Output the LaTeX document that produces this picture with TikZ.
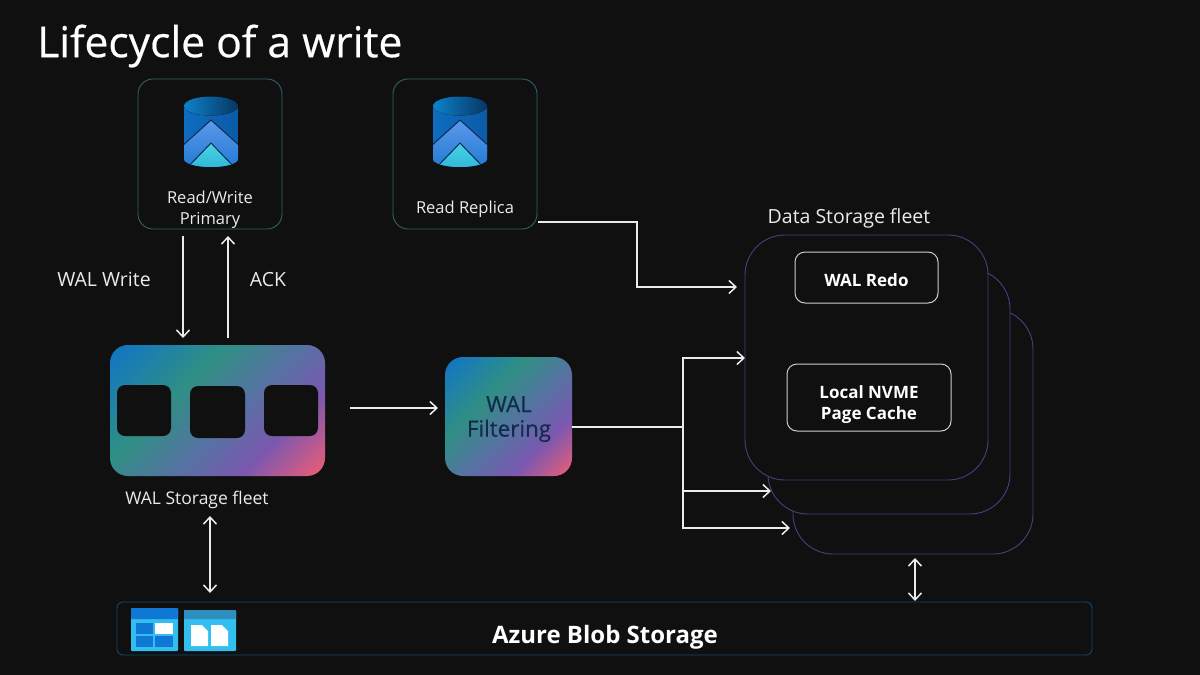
\documentclass[tikz,border=0pt]{standalone}
\usepackage{fontspec}
\setmainfont{Open Sans}
\newfontfamily\semif[FakeBold=0.5]{Open Sans}
\usetikzlibrary{arrows.meta}
\usetikzlibrary{calc}
\definecolor{bgc}{HTML}{101011}
\definecolor{tealc}{HTML}{2F6466}
\definecolor{purc}{HTML}{4C3D7C}
\definecolor{blobc}{HTML}{14456C}
\definecolor{wa}{HTML}{1478BE}
\definecolor{wb}{HTML}{2F8F84}
\definecolor{wc}{HTML}{5672A2}
\definecolor{wd}{HTML}{7A58B0}
\definecolor{we}{HTML}{E85C78}
\definecolor{dba}{HTML}{0F6CC0}
\definecolor{dbb}{HTML}{0C5AA6}
\definecolor{dbc}{HTML}{5C98EA}
\definecolor{dbd}{HTML}{1C78D2}
\definecolor{dbe}{HTML}{4AD4E0}
\definecolor{dbf}{HTML}{2EB4DC}
\definecolor{dbl}{HTML}{0C2A55}
\definecolor{sta}{HTML}{32BEEE}
\definecolor{stb}{HTML}{0F78D4}
\definecolor{stc}{HTML}{2E8EBE}
\definecolor{ftx}{HTML}{142A4C}
\pgfdeclarehorizontalshading{walgrad}{100bp}{color(0bp)=(wa);
  color(18bp)=(wa);
  color(38bp)=(wb);
  color(54bp)=(wc);
  color(68bp)=(wd);
  color(84bp)=(we);
  color(100bp)=(we)}
\tikzset{l/.style={font=\fontsize{16.5}{21}\selectfont,text=white!92!black,inner sep=0pt,align=center}}
\tikzset{m/.style={font=\fontsize{19.5}{24}\selectfont,text=white!92!black,inner sep=0pt}}
\tikzset{b/.style={font=\fontsize{17}{21}\selectfont\bfseries,text=white,inner sep=0pt,align=center}}
\tikzset{card/.style={draw=tealc,line width=0.9pt,rounded corners=15pt,inner sep=0pt}}
\tikzset{fleet/.style={draw=purc,fill=bgc,line width=0.9pt,rounded corners=40pt,inner sep=0pt}}
\tikzset{part/.style={draw=white!80!black,line width=1pt,rounded corners=10pt,inner sep=0pt}}
\tikzset{wal/.style={shading=walgrad,shading angle=-45,rounded corners=18pt,inner sep=0pt}}
\tikzset{slot/.style={fill=bgc,rounded corners=8pt,inner sep=0pt}}
\tikzset{dbicon/.pic={
    \begin{scope}
      \clip (-27,-26) -- (-27,27) arc[start angle=180,end angle=0,x radius=27,y radius=8] -- (27,-26) arc[start angle=0,end angle=180,x radius=27,y radius=9] -- cycle;
      \fill[left color=dba,right color=dbb] (-27,-36) rectangle (27,36);
      \shade[top color=dbc,bottom color=dbd,draw=dbl,line width=1pt] (-30,15) -- (0,-12) -- (30,15) -- (30,40) -- (-30,40) -- cycle;
      \shade[top color=dbe,bottom color=dbf,draw=dbl,line width=1pt] (-26,38) -- (0,11) -- (26,38) -- cycle;
    \end{scope}
    \fill[left color=dba!85!cyan,right color=dbb!60!black] (0,-26) ellipse[x radius=27,y radius=9.5];
}}
\begin{document}
\begin{tikzpicture}[x=1pt,y=-1pt,>={Straight Barb[length=7pt,width=13pt]}]
  \useasboundingbox (0,0) rectangle (1200,675);
  \fill[bgc] (0,0) rectangle (1200,675);
  \node[font=\semif\fontsize{42.6}{42.6}\selectfont,text=white,inner sep=0pt,anchor=west] (T) at (37,46) {Lifecycle of a write};

  \node[card,minimum width=144pt,minimum height=150pt] (P) at (210,154) {};
  \node[card,minimum width=144pt,minimum height=150pt] (R) at (465,154) {};
  \pic at (211,132) {dbicon};
  \pic at (460,132) {dbicon};
  \node[l] (PL) at (210,210) {Read/Write\\Primary};
  \node[l] (RL) at (465,209) {Read Replica};

  \node[wal,minimum width=215pt,minimum height=131pt] (W) at (217.5,410.5) {};
  \node[slot,minimum width=54pt,minimum height=51pt] (W1) at (144,410.5) {};
  \node[slot,minimum width=55pt,minimum height=52pt] (W2) at (217.5,412) {};
  \node[slot,minimum width=54pt,minimum height=51pt] (W3) at (291,410.5) {};
  \node[l,font=\fontsize{17.5}{21}\selectfont] (WL) at (197,500) {WAL Storage fleet};
  \node[wal,minimum width=127pt,minimum height=119pt] (F) at (508.5,416.5) {};
  \node[font=\semif\fontsize{22.4}{24.5}\selectfont,text=ftx,align=center,inner sep=0pt] (FL) at (509,419) {WAL\\Filtering};

  \node[fleet,minimum width=240pt,minimum height=245pt] (D3) at (913,431.5) {};
  \node[fleet,minimum width=242pt,minimum height=245pt] (D2) at (889,391.5) {};
  \node[fleet,minimum width=243pt,minimum height=245pt] (D1) at (866.5,357.5) {};
  \node[m] (DL) at (849,218) {Data Storage fleet};
  \node[part,minimum width=143pt,minimum height=51pt] (D1A) at (866.5,277.5) {};
  \node[b] (D1AL) at (866.5,280.5) {WAL Redo};
  \node[part,minimum width=164pt,minimum height=67pt] (D1B) at (869,397.5) {};
  \node[b] (D1BL) at (869,405) {Local NVME\\Page Cache};

  \node[draw=blobc,line width=0.9pt,rounded corners=6pt,minimum width=975pt,minimum height=53pt,inner sep=0pt] (S) at (604.5,628.5) {};
  \node[font=\fontsize{24}{28}\selectfont\bfseries,text=white,inner sep=0pt] (SL) at (605,637) {Azure Blob Storage};

  \fill[sta,rounded corners=1pt] (131,608) rectangle (178,651);
  \fill[stb,rounded corners=1pt] (131,608) rectangle (178,619);
  \fill[stb] (136,623) rectangle (153,634);
  \fill[white] (155,623) rectangle (173,634);
  \fill[stb] (136,636) rectangle (153,647);
  \fill[stb] (155,636) rectangle (173,647);
  \fill[sta,rounded corners=1pt] (184,610) rectangle (236,651);
  \fill[stc,rounded corners=1pt] (184,610) rectangle (236,619);
  \foreach \a in {191,211}
    \fill[white] (\a,625) -- (\a+11,625) -- (\a+17,631) -- (\a+17,646) -- (\a,646) -- cycle;

  \begin{scope}[line width=1.5pt,draw=white!92!black]
    \coordinate (PW) at (183,236);
    \coordinate (WW) at (183,338);
    \coordinate (PA) at (228,236);
    \coordinate (WA) at (228,338);
    \draw[->] (PW) -- (WW);
    \draw[->] (WA) -- (PA);
    \node[m] (WWL) at (104,279.5) {WAL Write};
    \node[m] (ACK) at (268,279.5) {ACK};

    \coordinate (WE) at (350,408);
    \coordinate (FW) at (438,408);
    \draw[->] (WE) -- (FW);

    \coordinate (RE) at (538,222);
    \coordinate (DA) at (737,287);
    \draw[->] (RE) -| (637,254.5) |- (DA);

    \coordinate (J) at (683,427);
    \coordinate (D1W) at (745,358);
    \coordinate (D2W) at (771,491);
    \coordinate (D3W) at (790,528);
    \draw (F.east |- J) -- (J);
    \draw[->] (J) |- (D1W);
    \draw[->] (J) |- (D2W);
    \draw[->] (J) |- (D3W);

    \coordinate (WB) at (210,516);
    \coordinate (SW) at (210,593);
    \draw[<->] (WB) -- (SW);
    \coordinate (DB) at (915,558);
    \coordinate (SD) at (915,601);
    \draw[<->] (DB) -- (SD);
  \end{scope}
\end{tikzpicture}
\end{document}
